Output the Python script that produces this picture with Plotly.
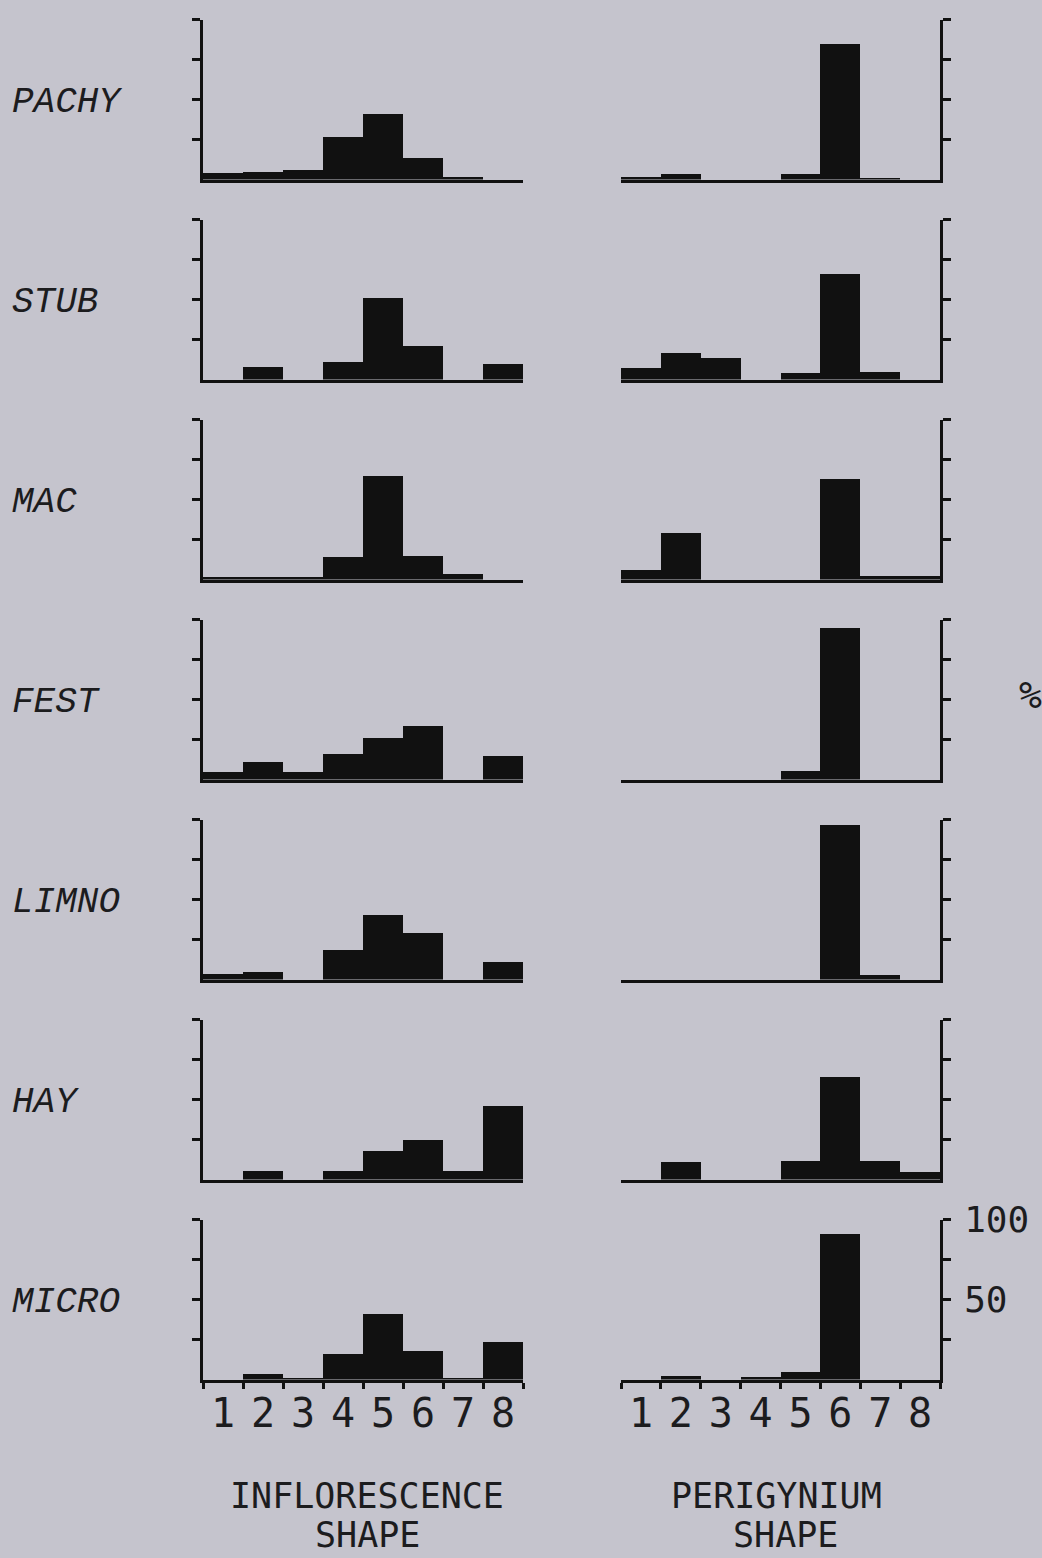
import plotly.graph_objects as go

# Shape classes along the x axis of every histogram
shape_bins = [1, 2, 3, 4, 5, 6, 7, 8]
groups = ["PACHY", "STUB", "MAC", "FEST", "LIMNO", "HAY", "MICRO"]

# Percent of specimens in each inflorescence-shape class
infl_pachy = [4.5, 5, 6, 27, 41, 14, 2, 0]
infl_stub = [0, 8, 0, 11.5, 51, 21.5, 0, 10]
infl_mac = [2, 2, 2, 14.5, 65, 15, 3.5, 0]
infl_fest = [5, 11, 5, 16.5, 26, 33.5, 0, 15]
infl_limno = [3.5, 5, 0, 18.5, 40.5, 29.5, 0, 11]
infl_hay = [0, 5.5, 0, 5.5, 18, 25, 5.5, 46.5]
infl_micro = [0, 4, 1.5, 16, 41.5, 18, 1.5, 24]

# Percent of specimens in each perigynium-shape class
peri_pachy = [2, 3.5, 0, 0, 3.5, 85, 1.5, 0]
peri_stub = [7.5, 17, 14, 0, 4.5, 66, 5, 0]
peri_mac = [6.5, 29.5, 0, 0, 0, 63, 2.5, 2.5]
peri_fest = [0, 0, 0, 0, 5.5, 95, 0, 0]
peri_limno = [0, 0, 0, 0, 0, 97, 3, 0]
peri_hay = [0, 11, 0, 0, 12, 64.5, 12, 5]
peri_micro = [0, 2.5, 0, 2, 5, 91, 0, 0]

pct_ticks = [25, 50, 75, 100]
pct_labels = ["", "50", "", "100"]

inflorescence = [infl_pachy, infl_stub, infl_mac, infl_fest, infl_limno, infl_hay, infl_micro]
perigynium = [peri_pachy, peri_stub, peri_mac, peri_fest, peri_limno, peri_hay, peri_micro]

W, H = 1042, 1558
BG = "#c5c4cd"
INK = "#111111"
TEXT = "#1c1c1e"
SANS_MONO = "DejaVu Sans Mono, monospace"
TYPE_ITALIC = "Liberation Mono, Courier New, monospace"

left_dom = [203 / W, 523 / W]
right_dom = [621 / W, 940 / W]

fig = go.Figure()
layout = {}

for r in range(len(groups)):
    top_px = 19.5 + 200 * r
    base_px = 179.5 + 200 * r
    y_dom = [1 - base_px / H, 1 - top_px / H]
    last_row = r == len(groups) - 1
    for c, (vals, x_dom, side) in enumerate(
        [(inflorescence[r], left_dom, "left"), (perigynium[r], right_dom, "right")]
    ):
        idx = 2 * r + c + 1
        sfx = "" if idx == 1 else str(idx)
        fig.add_trace(go.Bar(
            x=shape_bins, y=vals, width=1,
            marker=dict(color=INK, line=dict(width=0)),
            xaxis="x" + sfx, yaxis="y" + sfx,
            showlegend=False, hoverinfo="skip",
        ))
        layout["xaxis" + sfx] = dict(
            domain=x_dom, anchor="y" + sfx, range=[0.5, 8.5],
            automargin=False,
            showline=True, linewidth=3, linecolor=INK,
            showgrid=False, zeroline=False,
            tickmode="array", tickvals=shape_bins,
            ticktext=[str(b) for b in shape_bins],
            ticks="", showticklabels=last_row,
            tickfont=dict(family=SANS_MONO, size=40, color=TEXT),
            ticklabelstandoff=-4,
            minor=dict(
                ticks="outside" if last_row else "",
                tickmode="array",
                tickvals=[b - 0.5 for b in shape_bins] + [8.5],
                ticklen=6, tickwidth=2.5, tickcolor=INK, showgrid=False,
            ),
            fixedrange=True,
        )
        layout["yaxis" + sfx] = dict(
            domain=y_dom, anchor="x" + sfx, side=side, range=[0, 100],
            automargin=False,
            showline=True, linewidth=3, linecolor=INK,
            showgrid=False, zeroline=False,
            tickmode="array", tickvals=pct_ticks, ticktext=pct_labels,
            ticks="outside", ticklen=8, tickwidth=3, tickcolor=INK,
            showticklabels=(last_row and c == 1),
            tickfont=dict(family=SANS_MONO, size=36, color=TEXT),
            ticklabelstandoff=6,
            fixedrange=True,
        )

annotations = []
# group names beside each row
for r, name in enumerate(groups):
    sfx = "" if r == 0 else str(2 * r + 1)
    annotations.append(dict(
        text=name, xref="paper", x=10 / W, xanchor="left",
        yref="y" + sfx, y=48, yanchor="middle",
        showarrow=False,
        font=dict(family=TYPE_ITALIC, size=36, color=TEXT, style="italic"),
    ))

# column titles
for txt, xp, yp in [("INFLORESCENCE", 367, 1496), ("SHAPE", 367, 1535),
                    ("PERIGYNIUM", 776, 1496), ("SHAPE", 785, 1535)]:
    annotations.append(dict(
        text=txt, xref="paper", yref="paper", x=xp / W, y=1 - yp / H,
        xanchor="center", yanchor="middle", showarrow=False,
        font=dict(family=SANS_MONO, size=35, color=TEXT),
    ))

annotations.append(dict(
    text="%", xref="paper", yref="paper", x=1030 / W, y=1 - 695 / H,
    xanchor="center", yanchor="middle", showarrow=False,
    font=dict(family=SANS_MONO, size=38, color=TEXT),
))

fig.update_layout(
    width=W, height=H,
    margin=dict(l=0, r=0, t=0, b=0, pad=0),
    paper_bgcolor=BG, plot_bgcolor=BG,
    bargap=0, annotations=annotations,
    **layout,
)

fig.write_html("out.html", config=dict(displayModeBar=False))
